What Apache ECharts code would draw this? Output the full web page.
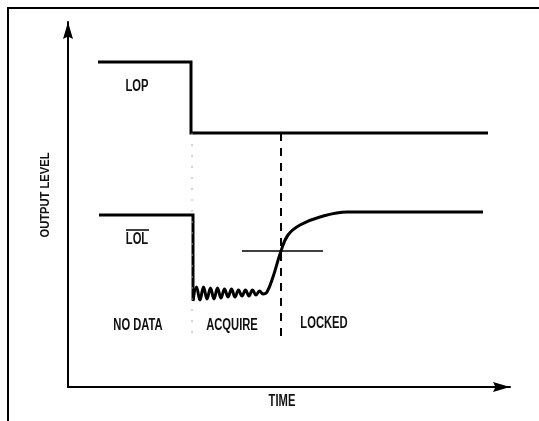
<!DOCTYPE html>
<html>
<head>
<meta charset="utf-8">
<script src="https://cdn.jsdelivr.net/npm/echarts@6/dist/echarts.min.js"></script>
<style>
  html, body { margin: 0; padding: 0; background: #fff; }
  #chart { width: 539px; height: 421px; }
</style>
</head>
<body>
<div id="chart"></div>
<script>
// Arbitrary schematic units (time to the right, output level upward)
const lopTime  = [30, 123, 123, 420];
const lopLevel = [325, 325, 254, 254];

const lolStepTime  = [31, 125, 125];
const lolStepLevel = [172, 172, 87];

const lolAcqTime  = [125, 128.5, 132, 135.5, 139, 142.5, 146, 149.5, 153, 156.5, 160, 163.5, 167, 170.5, 174, 177.5, 181, 184.5, 188, 191.5, 195, 199, 205, 213, 220, 232, 252, 279, 415];
const lolAcqLevel = [86, 100, 87, 100, 88, 99, 88, 99, 89, 98, 90, 98, 90, 97, 91, 97, 91, 97, 92, 96, 93, 95, 110, 136, 152, 162, 170, 175, 175];

const thresholdTime  = [174, 255];
const thresholdLevel = [136, 136];

const lockTime  = [213, 213];
const lockLevel = [254, 49];

const dataEdgeTime  = [124, 124];
const dataEdgeLevel = [254, 49];

const labels = ['LOP', 'LOL', 'NO DATA', 'ACQUIRE', 'LOCKED'];
const xName = 'TIME';
const yName = 'OUTPUT LEVEL';

const zip = (a, b) => a.map((v, i) => [v, b[i]]);
const FONT = '"Liberation Sans Narrow", "Liberation Sans", sans-serif';
const ARROW = 'path://M5,0 L10,17 L5,14.5 L0,17 Z';

const chart = echarts.init(document.getElementById('chart'), null, { renderer: 'canvas' });

const txt = (text, x, y, extra, size, sx) => Object.assign({
  type: 'text', x: x, y: y, scaleX: sx || 0.7,
  style: { text: text, fill: '#111', fontSize: size || 16, fontWeight: 'bold', fontFamily: FONT,
    align: 'center', verticalAlign: 'middle' }
}, extra || {});

chart.setOption({
  animation: false,
  backgroundColor: '#fff',
  grid: { left: 68, right: 29, top: 22, bottom: 34 },
  xAxis: {
    type: 'value', min: 0, max: 442,
    axisLine: { show: true, symbol: ['none', ARROW], symbolSize: [11, 17], symbolOffset: [0, -8.5],
      lineStyle: { color: '#000', width: 2 } },
    axisTick: { show: false }, axisLabel: { show: false }, splitLine: { show: false }
  },
  yAxis: {
    type: 'value', min: 0, max: 365,
    axisLine: { show: true, symbol: ['none', ARROW], symbolSize: [11, 17], symbolOffset: [0, -8.5],
      lineStyle: { color: '#000', width: 2 } },
    axisTick: { show: false }, axisLabel: { show: false }, splitLine: { show: false }
  },
  series: [
    { name: 'LOP', type: 'line', data: zip(lopTime, lopLevel), symbol: 'none',
      lineStyle: { color: '#000', width: 3, join: 'miter' } },
    { name: 'LOL step', type: 'line', data: zip(lolStepTime, lolStepLevel), symbol: 'none',
      lineStyle: { color: '#000', width: 3, join: 'miter' } },
    { name: 'LOL acquire', type: 'line', data: zip(lolAcqTime, lolAcqLevel), symbol: 'none', smooth: 0.4,
      lineStyle: { color: '#000', width: 3 } },
    { name: 'threshold', type: 'line', data: zip(thresholdTime, thresholdLevel), symbol: 'none',
      lineStyle: { color: '#000', width: 1.6 } },
    { name: 'lock', type: 'line', data: zip(lockTime, lockLevel), symbol: 'none',
      lineStyle: { color: '#000', width: 2, type: [8, 7] } },
    { name: 'data edge', type: 'line', data: zip(dataEdgeTime, dataEdgeLevel), symbol: 'none',
      lineStyle: { color: '#aaa', width: 1, type: [2, 9] } }
  ],
  graphic: [
    { type: 'polyline', shape: { points: [[8, 421], [8, 8], [539, 8]] },
      style: { stroke: '#000', lineWidth: 2, fill: null } },
    txt(labels[0], 137, 87),
    txt(labels[1], 137, 240),
    { type: 'line', shape: { x1: 126, y1: 230, x2: 149, y2: 230 }, style: { stroke: '#000', lineWidth: 1.5 } },
    txt(labels[2], 138, 326),
    txt(labels[3], 232, 326),
    txt(labels[4], 324, 324),
    txt(xName, 282, 402),
    txt(yName, 45, 195, { rotation: Math.PI / 2 }, 13, 0.86)
  ]
});
</script>
</body>
</html>
